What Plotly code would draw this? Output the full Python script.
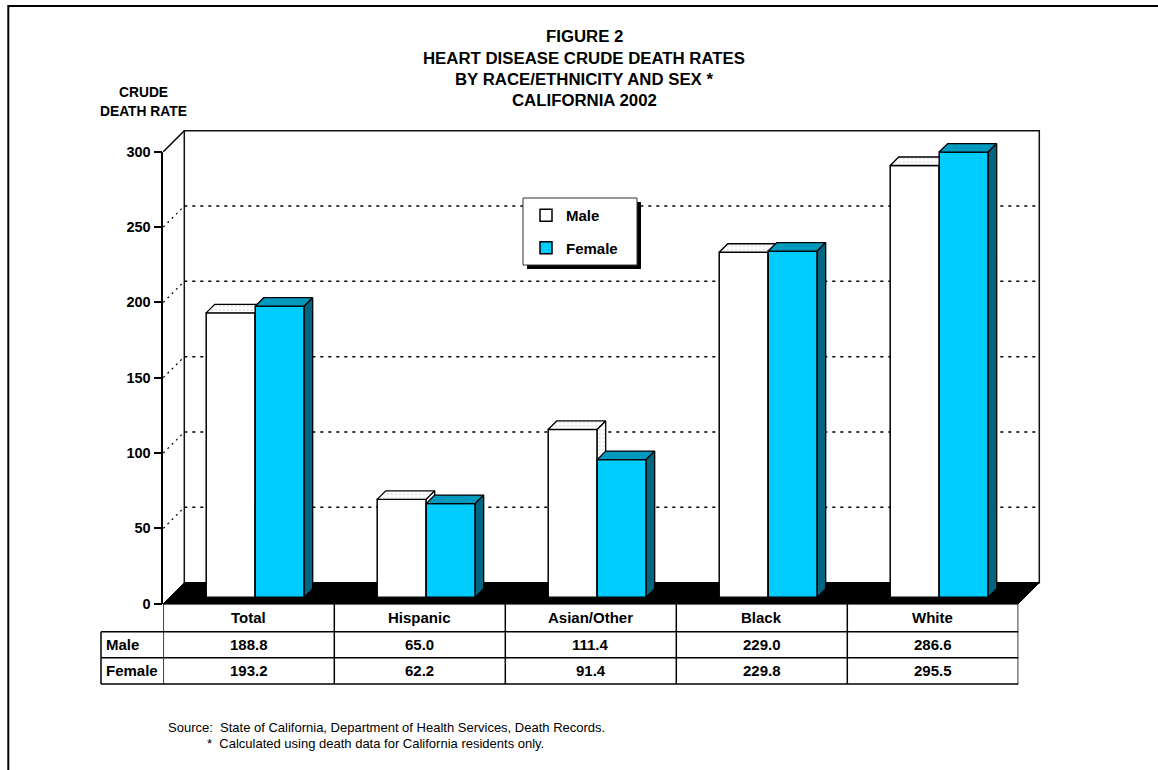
import plotly.graph_objects as go

# ---------------- data ----------------
categories = ["Total", "Hispanic", "Asian/Other", "Black", "White"]
male = [188.8, 65.0, 111.4, 229.0, 286.6]
female = [193.2, 62.2, 91.4, 229.8, 295.5]
series_names = ["Male", "Female"]
y_ticks = [0, 50, 100, 150, 200, 250, 300]

title_lines = ["FIGURE 2", "HEART DISEASE CRUDE DEATH RATES",
               "BY RACE/ETHNICITY AND SEX *", "CALIFORNIA 2002"]
y_title_lines = ["CRUDE", "DEATH RATE"]
source_lines = ["Source:  State of California, Department of Health Services, Death Records.",
                "*  Calculated using death data for California residents only."]

# ---------------- layout constants (pixels) ----------------
W, H = 1158, 770
FONT = "Liberation Sans, Arial, Helvetica, sans-serif"
X_L, X_R = 163.3, 1018.3          # front plane (category axis extent)
Y_0, Y_TOP = 603.7, 151.7         # front plane value 0 / value 300
Y_MAX = 300
S = (Y_0 - Y_TOP) / Y_MAX         # px per unit
WALL_D = 21                       # depth of back wall
BAR_D0 = 6.4                      # depth at which bars stand
BAR_DEPTH = 8.5                   # depth of each bar
N = len(categories)
CAT_W = (X_R - X_L) / N
BAR_W = 49 / CAT_W                # bar width in category units
BAR_TOP_PX = 100
TBL_L = 101
ROW_Y = [603.7, 631.7, 657.7, 684]  # table row boundaries

C_MALE = "#FFFFFF"
C_MALE_TOP = "#F6F6F6"
C_FEM = "#00CCFF"
C_FEM_TOP = "#0099BE"
C_FEM_SIDE = "#006680"


def px(x):
    return x / W


def py(y):
    return 1 - y / H


def front_y(v):
    return py(Y_0 - v * S)


def back_y(v):
    return py(Y_0 - WALL_D - v * S)


ddx = BAR_DEPTH / CAT_W
ddy = BAR_DEPTH / S
idx = list(range(N))


def faces(vals, offset):
    tx, ty, sx, sy = [], [], [], []
    for i, v in enumerate(vals):
        xl = i + offset
        xr = xl + BAR_W
        tx += [xl, xr, xr + ddx, xl + ddx, xl, None]
        ty += [v, v, v + ddy, v + ddy, v, None]
        sx += [xr, xr + ddx, xr + ddx, xr, xr, None]
        sy += [0, ddy, v + ddy, v, 0, None]
    return tx, ty, sx, sy


fig = go.Figure()

fig.add_trace(go.Scatter(x=[None], y=[None], xaxis="x", yaxis="y",
                         showlegend=False, hoverinfo="skip"))

stipple = dict(shape=".", fgcolor="#C4C4C4", bgcolor="white", size=4, solidity=0.12,
               fillmode="replace")
series = [
    (series_names[0], male, -BAR_W, C_MALE, C_MALE_TOP, C_MALE_TOP, "x2", "y2", stipple),
    (series_names[1], female, 0.0, C_FEM, C_FEM_TOP, C_FEM_SIDE, "x3", "y3", None),
]
for name, vals, off, cf, ct, cs, xa, ya, patt in series:
    fig.add_trace(go.Bar(x=idx, y=vals, width=BAR_W, offset=off, name=name,
                         legendgroup=name, xaxis=xa, yaxis=ya,
                         marker=dict(color=cf, line=dict(color="black", width=1.5))))
    tx, ty, sx, sy = faces(vals, off)
    for fx, fy, fc in ((tx, ty, ct), (sx, sy, cs)):
        kw = dict(fillpattern=patt) if patt else {}
        fig.add_trace(go.Scatter(x=fx, y=fy, mode="lines", fill="toself", fillcolor=fc,
                                 line=dict(color="black", width=1.3), xaxis=xa, yaxis=ya,
                                 showlegend=False, hoverinfo="skip", **kw))

shapes = []
# outer frame
shapes.append(dict(type="rect", xref="paper", yref="paper", x0=px(8.3), y0=py(6),
                   x1=1.05, y1=-0.05, line=dict(color="black", width=2), layer="below"))
# back wall
shapes.append(dict(type="rect", xref="paper", yref="paper",
                   x0=px(X_L + WALL_D), x1=px(X_R + WALL_D),
                   y0=back_y(0), y1=back_y(Y_MAX),
                   fillcolor="white", line=dict(color="#111111", width=1.5), layer="below"))
# left wall top edge
shapes.append(dict(type="line", xref="paper", yref="paper",
                   x0=px(X_L), y0=front_y(Y_MAX), x1=px(X_L + WALL_D), y1=back_y(Y_MAX),
                   line=dict(color="black", width=1.5), layer="below"))
# gridlines on back wall and left wall
for v in y_ticks[1:-1]:
    shapes.append(dict(type="line", xref="paper", yref="paper",
                       x0=px(X_L + WALL_D), x1=px(X_R + WALL_D), y0=back_y(v), y1=back_y(v),
                       line=dict(color="black", width=1.5, dash="3px,5px"), layer="below"))
    shapes.append(dict(type="line", xref="paper", yref="paper",
                       x0=px(X_L), x1=px(X_L + WALL_D), y0=front_y(v), y1=back_y(v),
                       line=dict(color="black", width=1.2, dash="2px,4px"), layer="below"))
# floor
shapes.append(dict(type="path", xref="paper", yref="paper",
                   path=(f"M {px(X_L)},{front_y(0)} L {px(X_R)},{front_y(0)} "
                         f"L {px(X_R + WALL_D)},{back_y(0)} L {px(X_L + WALL_D)},{back_y(0)} Z"),
                   fillcolor="black", line=dict(color="black", width=1), layer="below"))

# data table grid (columns follow the category axis)
TL = dict(color="black", width=1.5)
for k in range(N + 1):
    shapes.append(dict(type="line", xref="x", yref="paper", x0=k - 0.5, x1=k - 0.5,
                       y0=py(ROW_Y[0]), y1=py(ROW_Y[-1]), line=TL))
shapes.append(dict(type="line", xref="paper", yref="paper", x0=px(TBL_L), x1=px(TBL_L),
                   y0=py(ROW_Y[1]), y1=py(ROW_Y[-1]), line=TL))
for r in ROW_Y:
    x0 = px(X_L) if r == ROW_Y[0] else px(TBL_L)
    shapes.append(dict(type="line", xref="paper", yref="paper", x0=x0, x1=px(X_R),
                       y0=py(r), y1=py(r), line=TL))

# legend box with drop shadow
shapes.append(dict(type="rect", xref="paper", yref="paper", x0=px(527), x1=px(641),
                   y0=py(202), y1=py(269), fillcolor="black", line=dict(width=0), layer="above"))
shapes.append(dict(type="rect", xref="paper", yref="paper", x0=px(523), x1=px(637),
                   y0=py(198), y1=py(265), fillcolor="white",
                   line=dict(color="#333333", width=1), layer="above"))

annotations = []
TFONT = dict(family=FONT, size=15, color="black")
row_mid = [(ROW_Y[i] + ROW_Y[i + 1]) / 2 for i in range(3)]
for i, c in enumerate(categories):
    annotations.append(dict(text=f"<b>{c}</b>", x=i, y=py(row_mid[0]), xref="x", yref="paper",
                            xanchor="center", yanchor="middle", showarrow=False, font=TFONT))
for r, (name, vals) in enumerate(zip(series_names, [male, female])):
    annotations.append(dict(text=f"<b>{name}</b>", x=px(TBL_L + 3), y=py(row_mid[r + 1]),
                            xref="paper", yref="paper", xanchor="left", yanchor="middle",
                            showarrow=False, font=TFONT))
    for i, v in enumerate(vals):
        annotations.append(dict(text=f"<b>{v:.1f}</b>", x=i, y=py(row_mid[r + 1]),
                                xref="x", yref="paper", xanchor="center", yanchor="middle",
                                showarrow=False, font=TFONT))

for i, t in enumerate(title_lines):
    annotations.append(dict(text=f"<b>{t}</b>", x=px(584), y=py(36.5 + 21.5 * i),
                            xref="paper", yref="paper", xanchor="center", yanchor="middle",
                            showarrow=False, font=dict(family=FONT, size=16.8, color="black")))
for i, t in enumerate(y_title_lines):
    annotations.append(dict(text=f"<b>{t}</b>", x=px(143.5), y=py(92 + 19.5 * i),
                            xref="paper", yref="paper", xanchor="center", yanchor="middle",
                            showarrow=False, font=dict(family=FONT, size=13.8, color="black")))
annotations.append(dict(text=source_lines[0], x=px(166), y=py(727), xref="paper", yref="paper",
                        xanchor="left", yanchor="middle", showarrow=False,
                        font=dict(family=FONT, size=13, color="black")))
annotations.append(dict(text=source_lines[1], x=px(205), y=py(743), xref="paper", yref="paper",
                        xanchor="left", yanchor="middle", showarrow=False,
                        font=dict(family=FONT, size=13, color="black")))

bar_top_range = (Y_0 - BAR_D0 - BAR_TOP_PX) / S

fig.update_layout(
    width=W, height=H, margin=dict(l=0, r=0, t=0, b=0, autoexpand=False),
    paper_bgcolor="white", plot_bgcolor="rgba(0,0,0,0)",
    font=dict(family=FONT, color="black"),
    showlegend=True,
    legend=dict(x=px(526), y=py(199), xanchor="left", yanchor="top",
                bgcolor="rgba(0,0,0,0)", borderwidth=0, traceorder="grouped",
                tracegroupgap=10, font=dict(family=FONT, size=15, color="black", weight="bold")),
    xaxis=dict(domain=[px(X_L), px(X_R)], range=[-0.5, N - 0.5], visible=False,
               anchor="y", fixedrange=True),
    yaxis=dict(domain=[front_y(0), front_y(Y_MAX)], range=[0, Y_MAX], anchor="x",
               tickvals=y_ticks, ticks="outside", ticklen=8, tickwidth=1.5, tickcolor="black",
               showline=True, linecolor="black", linewidth=1.5, showgrid=False, zeroline=False,
               tickfont=dict(family=FONT, size=14.5, color="black", weight="bold"),
               fixedrange=True),
    xaxis2=dict(domain=[px(X_L + BAR_D0), px(X_R + BAR_D0)], range=[-0.5, N - 0.5],
                visible=False, anchor="y2", fixedrange=True),
    yaxis2=dict(domain=[py(Y_0 - BAR_D0), py(BAR_TOP_PX)], range=[0, bar_top_range],
                visible=False, anchor="x2", fixedrange=True),
    xaxis3=dict(overlaying="x2", range=[-0.5, N - 0.5], visible=False, anchor="y3",
                fixedrange=True),
    yaxis3=dict(overlaying="y2", range=[0, bar_top_range], visible=False, anchor="x3",
                fixedrange=True),
    shapes=shapes,
    annotations=annotations,
)

fig.write_html("out.html", config={"displayModeBar": False},
               post_script="document.body.style.margin='0px';"
                           "document.body.style.overflow='hidden';")
